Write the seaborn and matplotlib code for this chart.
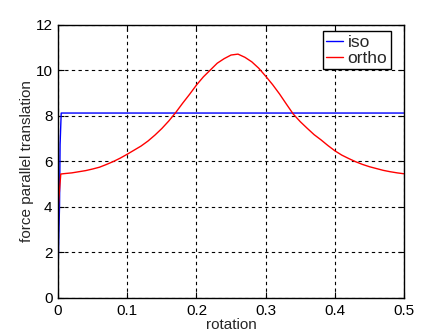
import matplotlib
matplotlib.use("Agg")
import matplotlib.pyplot as plt
import seaborn as sns
import pandas as pd

# ---- data ----
iso_x = [0.0, 0.0003, 0.0012, 0.0022, 0.0030, 0.0046, 0.5]
iso_y = [0.93, 1.37, 2.76, 4.1, 6.75, 8.13, 8.13]

ortho_x = [0.0, 0.0006, 0.0028, 0.004, 0.01, 0.02, 0.03, 0.04, 0.05, 0.06, 0.07,
           0.08, 0.09, 0.10, 0.11, 0.12, 0.13, 0.14, 0.15, 0.16, 0.17, 0.18,
           0.19, 0.20, 0.21, 0.22, 0.23, 0.24, 0.25, 0.26, 0.27, 0.28, 0.29,
           0.30, 0.31, 0.32, 0.33, 0.34, 0.35, 0.36, 0.37, 0.38, 0.39, 0.40,
           0.41, 0.42, 0.43, 0.44, 0.45, 0.46, 0.47, 0.48, 0.49, 0.50]
ortho_y = [0.0, 4.1, 5.0, 5.45, 5.47, 5.50, 5.55, 5.60, 5.67, 5.75, 5.87,
           6.00, 6.15, 6.32, 6.50, 6.68, 6.90, 7.16, 7.45, 7.78, 8.15, 8.56,
           8.95, 9.36, 9.72, 10.02, 10.32, 10.52, 10.68, 10.72, 10.58, 10.38, 10.10,
           9.75, 9.38, 8.97, 8.52, 8.08, 7.75, 7.46, 7.18, 6.95, 6.70, 6.47,
           6.28, 6.13, 5.99, 5.87, 5.77, 5.69, 5.61, 5.55, 5.50, 5.46]

series_names = ["iso", "ortho"]
series_colors = {"iso": "#0000ff", "ortho": "#ff0000"}

x_ticks = [0, 0.1, 0.2, 0.3, 0.4, 0.5]
x_tick_labels = ["0", "0.1", "0.2", "0.3", "0.4", "0.5"]
y_ticks = [0, 2, 4, 6, 8, 10, 12]

df = pd.concat([
    pd.DataFrame({"rotation": iso_x, "force": iso_y, "series": "iso"}),
    pd.DataFrame({"rotation": ortho_x, "force": ortho_y, "series": "ortho"}),
], ignore_index=True)

sns.set_style("white")
plt.rcParams["font.family"] = ["Liberation Sans", "DejaVu Sans"]

fig = plt.figure(figsize=(4.48, 3.36), dpi=100)
ax = fig.add_axes([0.1295, 0.1131, 0.7725, 0.8125])

sns.lineplot(data=df, x="rotation", y="force", hue="series",
             hue_order=series_names, palette=series_colors,
             sort=False, estimator=None, linewidth=1.0, ax=ax)

ax.set_xlim(0, 0.5)
ax.set_ylim(0, 12)
ax.set_xticks(x_ticks)
ax.set_xticklabels(x_tick_labels)
ax.set_yticks(y_ticks)
ax.grid(True, color="black", linestyle=(0, (3, 3)), linewidth=0.8)
ax.set_axisbelow(True)
for s in ax.spines.values():
    s.set_visible(True)
    s.set_color("black")
    s.set_linewidth(1.0)
ax.tick_params(direction="in", length=4, width=0.8, colors="black",
               labelsize=11, top=True, right=True, bottom=True, left=True, pad=4)
ax.set_xlabel("rotation", fontsize=11, labelpad=0)
ax.set_ylabel("force parallel translation", fontsize=11, labelpad=1)

leg = ax.legend(loc="upper right", bbox_to_anchor=(0.962, 0.978), frameon=True,
                fancybox=False, framealpha=1, edgecolor="black", fontsize=12.5,
                handlelength=0.95, handletextpad=0.3, borderpad=0.2,
                labelspacing=0.05, borderaxespad=0.0)
leg.get_frame().set_linewidth(1.0)

fig.savefig("out.png", dpi=100, facecolor="white")
